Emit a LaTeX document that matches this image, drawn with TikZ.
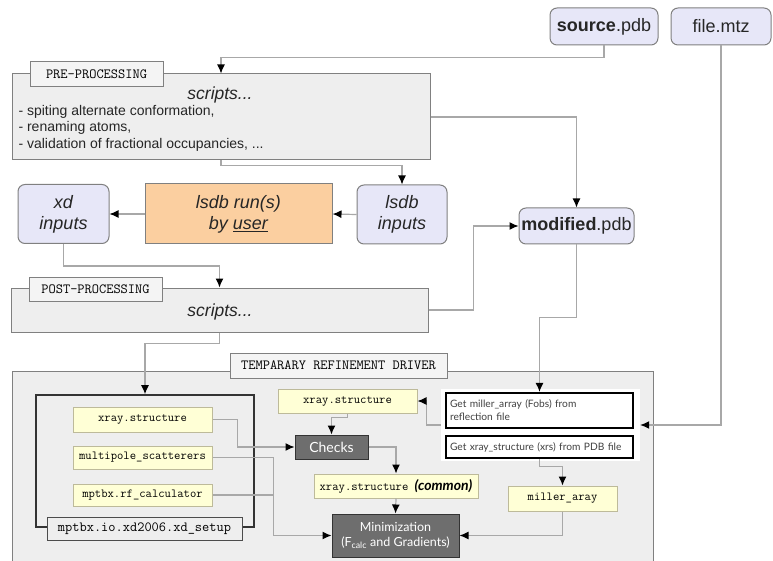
\documentclass[tikz,border=0pt]{standalone}
\usepackage{fontspec}
\setmainfont{Liberation Sans}
\setmonofont{Latin Modern Mono}
\newfontfamily\gillfont{Lato}
\usetikzlibrary{positioning,arrows.meta}
\definecolor{filebg}{HTML}{E7E7F8}
\definecolor{procbg}{HTML}{EEEEEE}
\definecolor{tabbg}{HTML}{F4F4F4}
\definecolor{userbg}{HTML}{FBCFA0}
\definecolor{objbg}{HTML}{FFFFD6}
\definecolor{objline}{HTML}{BDBA9A}
\definecolor{stepbg}{HTML}{6E6E6E}
\definecolor{wirecol}{HTML}{A8A8A8}
\tikzset{
  datafile/.style={ % image of a data file
    draw=gray, line width=1pt, rounded corners=7pt, fill=filebg,
    minimum height=37pt, inner sep=0pt, text=black!85,
    font=\fontsize{18}{21}\selectfont
  },
  inputs/.style={ % image of a set of input files
    datafile, minimum height=59pt, align=center,
    font=\fontsize{18}{21}\selectfont\itshape
  },
  userbox/.style={ % image of the manual run
    draw=gray, line width=1pt, fill=userbg, align=center,
    minimum height=60pt, text=black!85,
    font=\fontsize{18}{21}\selectfont\itshape
  },
  procbox/.style={ % image of a processing stage
    draw=gray, line width=1pt, fill=procbg, inner sep=0pt
  },
  proctab/.style={ % label tab of a stage
    draw=gray, line width=1pt, fill=tabbg, minimum height=25pt,
    inner sep=0pt, text=black,
    font=\fontsize{14}{16}\selectfont\ttfamily
  },
  objbox/.style={ % image of a python object
    draw=objline, line width=1pt, fill=objbg, minimum height=24pt,
    inner sep=0pt, text=black,
    font=\fontsize{12.3}{14}\selectfont\ttfamily
  },
  stepbox/.style={ % image of a computation step
    draw=black!80, line width=1pt, fill=stepbg, text=white,
    align=center, inner sep=0pt, font=\gillfont\fontsize{14}{16}\selectfont
  },
  taskbox/.style={ % image of a reading task
    draw=black, line width=2.2pt, fill=white, align=left,
    inner ysep=0pt, inner xsep=4pt, text width=179pt, text=black!75,
    font=\gillfont\fontsize{10.2}{13}\selectfont
  },
  wire/.style={ % connector with black head
    draw=wirecol, line width=1.2pt,
    -{Latex[length=9pt,width=8pt,color=black]}
  }
}

\begin{document}
\begin{tikzpicture}[x=1pt,y=-1pt]
  \useasboundingbox (0,0) rectangle (773,561);

  % inputs
  \node[datafile, minimum width=108pt] (src) at (604,26.5) {\textbf{source}.pdb};
  \node[datafile, minimum width=100pt] (mtz) at (721,26.5) {file.mtz};

  % pre-processing
  \node[procbox, minimum width=418pt, minimum height=86pt] (pre) at (221,117) {};
  \node[proctab, minimum width=133pt] (pretab) at (96.5,74.5) {PRE-PROCESSING};
  \node[font=\fontsize{17.5}{20}\selectfont\itshape, text=black!85] (prescr) at (220,95) {scripts...};
  \node[anchor=west, align=left, text=black!85, font=\fontsize{14}{16.5}\selectfont]
    (prelist) at (15,128) {- spiting alternate conformation,\\- renaming atoms,\\- validation of fractional occupancies, ...};

  % lsdb run
  \node[inputs, minimum width=90pt] (lsdbin) at (402,214.5) {lsdb\\inputs};
  \node[userbox, minimum width=187pt] (run) at (238.5,214) {lsdb run(s)\\by \underline{user}};
  \node[inputs, minimum width=91pt] (xdin) at (63.5,214) {xd\\inputs};
  \node[datafile, minimum width=115pt, minimum height=36pt] (mod) at (576.5,226) {\textbf{modified}.pdb};

  % post-processing
  \node[procbox, minimum width=417pt, minimum height=44pt] (post) at (219.5,310) {};
  \node[proctab, minimum width=133pt, minimum height=24pt] (posttab) at (95.5,289) {POST-PROCESSING};
  \node[font=\fontsize{17.5}{20}\selectfont\itshape, text=black!85] (postscr) at (220,312) {scripts...};

  % refinement driver
  \node[procbox, minimum width=641pt, minimum height=218pt] (drv) at (332.5,480) {};
  \node[proctab, minimum width=217pt] (drvtab) at (338.5,365.5) {TEMPARARY REFINEMENT DRIVER};
  \node[draw=black!80, line width=1.6pt, minimum width=218pt, minimum height=132pt] (grp) at (145,461) {};
  \node[proctab, draw=black!70, fill=procbg, minimum width=195pt, minimum height=23pt] (grptab) at (144.5,528.5) {mptbx.io.xd2006.xd\_setup};
  \node[objbox, minimum width=139pt, minimum height=25pt] (xs1) at (142.5,419.5) {xray.structure};
  \node[objbox, minimum width=139pt, minimum height=23pt, below=13pt of xs1] (ms) {multipole\_scatterers};
  \node[objbox, minimum width=139pt, minimum height=22pt, below=14pt of ms] (rf) {mptbx.rf\_calculator};

  \node[objbox, minimum width=139pt] (xs2) at (347.5,401) {xray.structure};
  \node[stepbox, minimum width=73pt, minimum height=24pt] (checks) at (331.5,447) {Checks};
  \node[objbox, minimum width=164pt] (xsc) at (396,486)
    {xray.structure {\gillfont\fontsize{14}{16}\selectfont\bfseries\itshape (common)}};
  \node[stepbox, minimum width=127pt, minimum height=43pt, font=\gillfont\fontsize{12.5}{15}\selectfont] (minim) at (395.5,535.5)
    {Minimization\\(F\textsubscript{calc} and Gradients)};

  \node[fill=white, minimum width=199pt, minimum height=72pt] (panel) at (540.5,425) {};
  \node[taskbox, minimum height=35pt] (getm) at (539.5,410.5)
    {Get miller\_array (Fobs) from\\reflection file};
  \node[taskbox, minimum height=22pt, below=6pt of getm] (getx)
    {Get xray\_structure (xrs) from PDB file};
  \node[objbox, minimum width=109pt, minimum height=25pt] (miller) at (562.5,498.5) {miller\_aray};

  % connectors
  \draw[wire] (src.south) -- ++(0,12) -| (pre.north);
  \draw[wire] (pre.east) -| (mod.north);
  \draw[wire] (pre.south) -- ++(0,5) -| (lsdbin.north);
  \draw[wire] (lsdbin.west) -- (run.east);
  \draw[wire] (run.west) -- (xdin.east);
  \draw[wire] (xdin.south) -- ++(0,22) -| (post.north);
  \draw[wire] (post.east) -- ++(45,0) |- (mod.west);
  \draw[wire] (post.south) -- ++(0,11) -| (grp.north);
  \draw[wire] (mod.south) -- ++(0,73) -| (getm.north);
  \draw[wire] (mtz.south) |- (panel.east);
  \draw[wire] (panel.west) -- ++(-14,0) |- (xs2.east);
  \draw[wire] (getx.south) -- ++(0,7) -| (miller.north);
  \draw[wire] (miller.south) |- (minim.east);
  \draw[wire] (xs2.south) -- ++(0,4) -| (checks.north);
  \draw[wire] (checks.east) -| (xsc.north);
  \draw[wire] (xsc.south) -- (minim.north);
  \draw[wire] (xs1.east) -- ++(25,0) |- (checks.west);
  \draw[wire] (ms.east) -- ++(61,0) |- (minim.west);
  \draw[wire, -] (rf.east) -- ++(61,0);
\end{tikzpicture}
\end{document}
